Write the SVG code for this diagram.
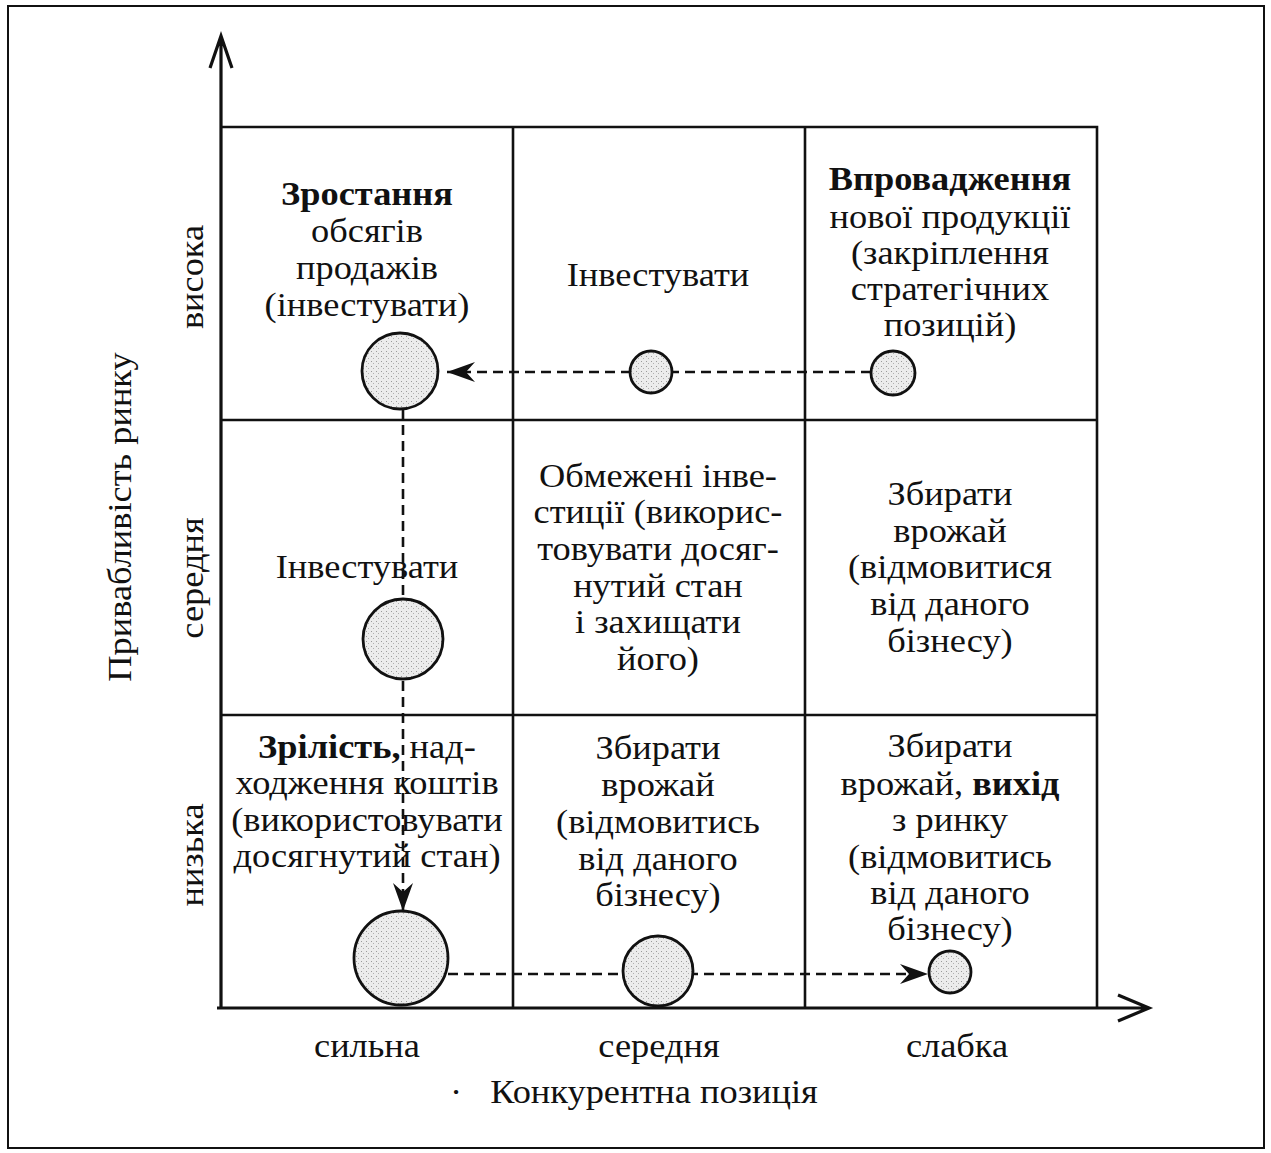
<svg xmlns="http://www.w3.org/2000/svg" width="1271" height="1153" viewBox="0 0 1271 1153">
<style>
text{font-family:"Liberation Serif","Times New Roman",serif;font-size:34px;fill:#111;text-anchor:middle}
.b{font-weight:bold}
.grid{stroke:#111;stroke-width:2.6;fill:none}
.axis{stroke:#111;stroke-width:3.2;fill:none}
.dash{stroke:#111;stroke-width:2.6;stroke-dasharray:10 6;fill:none}
.dot{fill:url(#stipple);stroke:#111;stroke-width:2.8}
</style>
<defs>
<pattern id="stipple" width="5" height="5" patternUnits="userSpaceOnUse">
<rect width="5" height="5" fill="#ececec"/>
<rect x="1" y="1" width="1" height="1" fill="#9a9a9a"/>
<rect x="3" y="3" width="1" height="1" fill="#b0b0b0"/>
</pattern>
<marker id="ah" viewBox="-30 -12 32 24" refX="0" refY="0" markerWidth="32" markerHeight="24" markerUnits="userSpaceOnUse" orient="auto">
<path d="M0,0 L-28,-10 L-19,0 L-28,10 Z" fill="#111"/>
</marker>
</defs>
<rect x="8" y="6" width="1256" height="1142" fill="#fff" stroke="#111" stroke-width="2"/>
<g id="grid">
<path class="grid" d="M221,127 H1097 V1008 M221,420 H1097 M221,715 H1097 M513,127 V1008 M805,127 V1008"/>
</g>
<g id="axes">
<path class="axis" d="M221,1008 V37 M210,68 L221,36 L232,68"/>
<path class="axis" d="M217,1008 H1148 M1118,995 L1149,1008 L1118,1021"/>
</g>
<g id="connectors">
<path class="dash" d="M871,372 H447" marker-end="url(#ah)"/>
<path class="dash" d="M403,409 V911" marker-end="url(#ah)"/>
<path class="dash" d="M448,974 H928" marker-end="url(#ah)"/>
</g>
<g id="circles">
<circle class="dot" cx="400" cy="371" r="38"/>
<circle class="dot" cx="651" cy="372" r="21"/>
<circle class="dot" cx="893" cy="373" r="22"/>
<circle class="dot" cx="403" cy="639" r="40"/>
<circle class="dot" cx="401" cy="958" r="47"/>
<circle class="dot" cx="658" cy="971" r="35"/>
<circle class="dot" cx="950" cy="972" r="21"/>
</g>
<g id="cell-r1c1" transform="matrix(1.07 0 0 1 -25.69 0)">
<text x="367" y="205" class="b">Зростання</text>
<text x="367" y="242">обсягів</text>
<text x="367" y="279">продажів</text>
<text x="367" y="316">(інвестувати)</text>
</g>
<g id="cell-r1c2" transform="matrix(1.07 0 0 1 -46.06 0)">
<text x="658" y="286">Інвестувати</text>
</g>
<g id="cell-r1c3" transform="matrix(1.07 0 0 1 -66.5 0)">
<text x="950" y="190" class="b">Впровадження</text>
<text x="950" y="228">нової продукції</text>
<text x="950" y="264">(закріплення</text>
<text x="950" y="300">стратегічних</text>
<text x="950" y="336">позицій)</text>
</g>
<g id="cell-r2c1" transform="matrix(1.07 0 0 1 -25.69 0)">
<text x="367" y="578">Інвестувати</text>
</g>
<g id="cell-r2c2" transform="matrix(1.07 0 0 1 -46.06 0)">
<text x="658" y="487">Обмежені інве-</text>
<text x="658" y="523">стиції (викорис-</text>
<text x="658" y="560">товувати досяг-</text>
<text x="658" y="597">нутий стан</text>
<text x="658" y="633">і захищати</text>
<text x="658" y="670">його)</text>
</g>
<g id="cell-r2c3" transform="matrix(1.07 0 0 1 -66.5 0)">
<text x="950" y="505">Збирати</text>
<text x="950" y="542">врожай</text>
<text x="950" y="578">(відмовитися</text>
<text x="950" y="615">від даного</text>
<text x="950" y="652">бізнесу)</text>
</g>
<g id="cell-r3c1" transform="matrix(1.07 0 0 1 -25.69 0)">
<text x="367" y="758"><tspan class="b">Зрілість,</tspan> над-</text>
<text x="367" y="794">ходження коштів</text>
<text x="367" y="831">(використовувати</text>
<text x="367" y="867">досягнутий стан)</text>
</g>
<g id="cell-r3c2" transform="matrix(1.07 0 0 1 -46.06 0)">
<text x="658" y="759">Збирати</text>
<text x="658" y="796">врожай</text>
<text x="658" y="833">(відмовитись</text>
<text x="658" y="870">від даного</text>
<text x="658" y="906">бізнесу)</text>
</g>
<g id="cell-r3c3" transform="matrix(1.07 0 0 1 -66.5 0)">
<text x="950" y="757">Збирати</text>
<text x="950" y="795">врожай, <tspan class="b">вихід</tspan></text>
<text x="950" y="831">з ринку</text>
<text x="950" y="868">(відмовитись</text>
<text x="950" y="904">від даного</text>
<text x="950" y="940">бізнесу)</text>
</g>
<g id="labels-x">
<text transform="translate(367 1057) scale(1.07 1)">сильна</text>
<text transform="translate(659 1057) scale(1.07 1)">середня</text>
<text transform="translate(957 1057) scale(1.07 1)">слабка</text>
<text transform="translate(654 1103) scale(1.07 1)">Конкурентна позиція</text>
<text transform="translate(456 1103) scale(1.07 1)">·</text>
</g>
<g id="labels-y">
<text transform="translate(203 277) rotate(-90) scale(1.07 1)">висока</text>
<text transform="translate(203 578) rotate(-90) scale(1.07 1)">середня</text>
<text transform="translate(203 855) rotate(-90) scale(1.07 1)">низька</text>
<text transform="translate(131 517) rotate(-90) scale(1.07 1)">Привабливість ринку</text>
</g>
</svg>
